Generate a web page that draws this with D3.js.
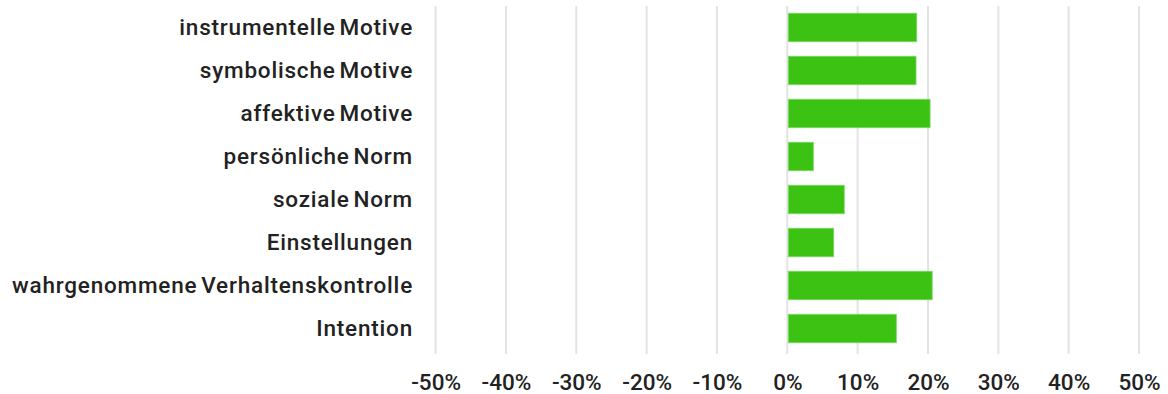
<!DOCTYPE html>
<html><head><meta charset="utf-8">
<script src="https://cdn.jsdelivr.net/npm/d3@7"></script>
<style>body{margin:0;background:#fff}svg{display:block}</style>
</head><body><svg id="c" width="1168" height="394"></svg>
<script>
const categories = ["instrumentelle Motive","symbolische Motive","affektive Motive","persönliche Norm","soziale Norm","Einstellungen","wahrgenommene Verhaltenskontrolle","Intention"];
const values = [0.184,0.183,0.203,0.037,0.081,0.066,0.206,0.155];
const ticks = [-0.5,-0.4,-0.3,-0.2,-0.1,0,0.1,0.2,0.3,0.4,0.5];

const svg = d3.select("#c");
const font = "Roboto, 'Noto Sans', sans-serif";
const x = d3.scaleLinear().domain([-0.5,0.5]).range([435.6,1139]);
const y = d3.scaleBand().domain(categories).range([6,350]).paddingInner(0.337).paddingOuter(0.168);

svg.append("g").selectAll("line").data(ticks).join("line")
  .attr("x1",d=>x(d)).attr("x2",d=>x(d)).attr("y1",6).attr("y2",354)
  .attr("stroke","#e3e3e3").attr("stroke-width",2);

svg.append("g").selectAll("rect").data(values).join("rect")
  .attr("x",x(0)+1).attr("y",(d,i)=>y(categories[i]))
  .attr("width",d=>x(d)-x(0)-1).attr("height",y.bandwidth())
  .attr("fill","#3cc212").attr("stroke","#7dd866").attr("stroke-width",0.8);

const yAxis = svg.append("g").attr("transform","translate(413,0)")
  .call(d3.axisLeft(y).tickSize(0).tickPadding(0));
yAxis.select(".domain").remove();
yAxis.selectAll("text").attr("font-family",font).attr("font-size",22.5).attr("font-weight",500).attr("fill","#222").attr("letter-spacing","0.8px").attr("word-spacing","-2.5px").attr("dy","0.33em");

const xAxis = svg.append("g").attr("transform","translate(0,390)")
  .call(d3.axisBottom(x).tickValues(ticks).tickSize(0).tickPadding(0).tickFormat(d=>Math.round(d*100)+"%"));
xAxis.select(".domain").remove();
xAxis.selectAll("text").attr("font-family",font).attr("font-size",22.5).attr("font-weight",500).attr("fill","#222").attr("dy","0");
</script></body></html>
